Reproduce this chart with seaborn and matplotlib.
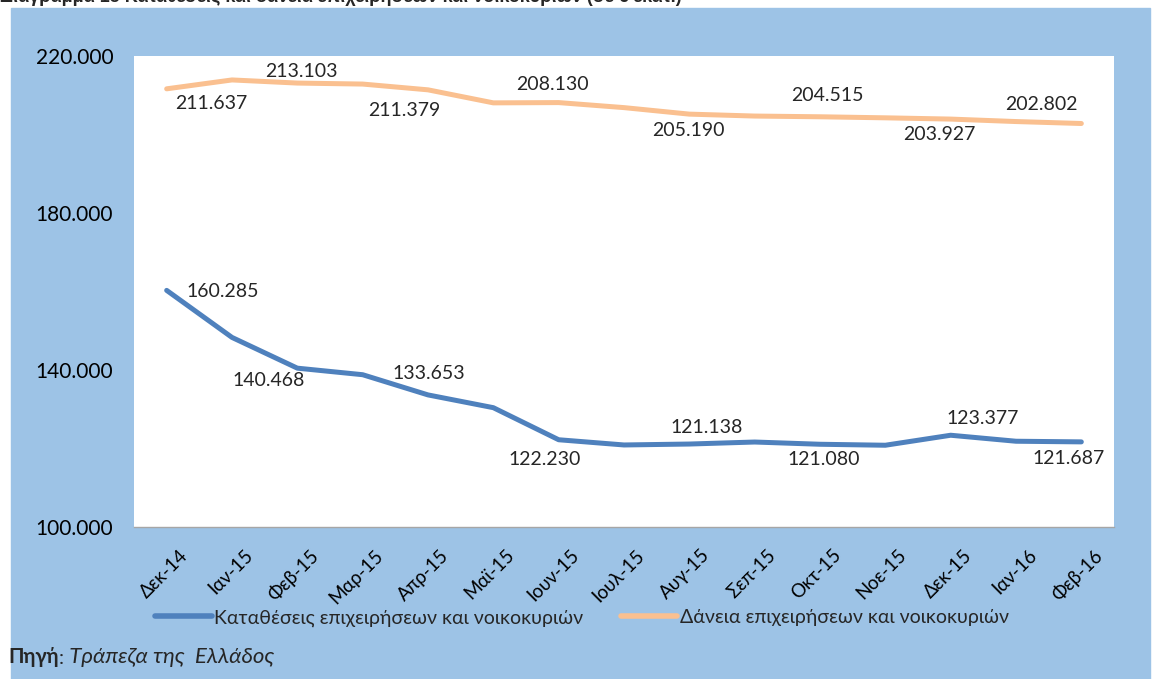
import matplotlib
matplotlib.use('Agg')
import matplotlib.pyplot as plt
import matplotlib.transforms as mtransforms
from matplotlib.patches import Rectangle
from matplotlib.ticker import FuncFormatter, FixedLocator
import pandas as pd
import seaborn as sns

# Data (σε € εκατ.)
months = ['Δεκ-14', 'Ιαν-15', 'Φεβ-15', 'Μαρ-15', 'Απρ-15', 'Μαϊ-15', 'Ιουν-15',
          'Ιουλ-15', 'Αυγ-15', 'Σεπ-15', 'Οκτ-15', 'Νοε-15', 'Δεκ-15', 'Ιαν-16', 'Φεβ-16']
deposits = [160285, 148300, 140468, 138800, 133653, 130400, 122230,
            120900, 121138, 121650, 121080, 120830, 123377, 121850, 121687]
loans = [211637, 213900, 213103, 212850, 211379, 208060, 208130,
         206850, 205190, 204700, 204515, 204250, 203927, 203300, 202802]
dep_name = 'Καταθέσεις επιχειρήσεων και νοικοκυριών'
loan_name = 'Δάνεια επιχειρήσεων και νοικοκυριών'
title = 'Διάγραμμα 15 Καταθέσεις και δάνεια επιχειρήσεων και νοικοκυριών (σε € εκατ.)'

# label offsets (pixels) for the labelled points (every second month)
loan_offsets = [(45, -15), (4, 12), (-24, -21), (-6, 18), (-1, -16), (7, 21), (-11, -15), (-40, 19)]
dep_offsets = [(56, -1), (-29, -12), (1, 21), (-14, -20), (17, 17), (4, -15), (32, 17), (-13, -17)]

blue = '#4F81BD'
orange = '#FAC090'
panel = '#9DC3E6'

sns.set_theme(style='white')
plt.rcParams['font.family'] = ['Lato', 'Noto Sans', 'DejaVu Sans']

W, H = 1153, 679
fig = plt.figure(figsize=(W / 100, H / 100), dpi=100)
fig.patches.append(Rectangle((11 / W, 0), (1150 - 11) / W, 671 / H,
                             transform=fig.transFigure, color=panel, zorder=-10))
ax = fig.add_axes([134 / W, 152 / H, 980 / W, 471 / H])
ax.set_zorder(1)
ax.set_facecolor('white')

df = pd.DataFrame({
    'month': months * 2,
    'value': deposits + loans,
    'series': [dep_name] * len(months) + [loan_name] * len(months),
})
sns.lineplot(data=df, x='month', y='value', hue='series', palette=[blue, orange],
             linewidth=3.6, sort=False, ax=ax)
for ln in ax.get_lines():
    ln.set_solid_capstyle('round')
    ln.set_solid_joinstyle('round')

ax.set_xlim(-0.5, len(months) - 0.5)
ax.set_ylim(100000, 220000)
ax.set_yticks([100000, 140000, 180000, 220000])
fmt = lambda v: f'{v:,.0f}'.replace(',', '.')
ax.yaxis.set_major_formatter(FuncFormatter(lambda v, _: fmt(v)))
ax.set_xlabel('')
ax.set_ylabel('')

for s in ['top', 'right', 'left']:
    ax.spines[s].set_visible(False)
ax.spines['bottom'].set_color('#A6A6A6')
ax.spines['bottom'].set_linewidth(1)

ax.tick_params(axis='y', length=0, pad=15, labelsize=15, labelcolor='black')
ax.tick_params(axis='x', which='major', length=0, pad=14, labelsize=13.5, labelcolor='black')
ax.xaxis.set_minor_locator(FixedLocator([i - 0.5 for i in range(len(months) + 1)]))
ax.tick_params(axis='x', which='minor', length=5, width=1, color='#A6A6A6', direction='out')

shift = mtransforms.ScaledTranslation(12 / 100, 0, fig.dpi_scale_trans)
for lab in ax.get_xticklabels():
    lab.set_rotation(45)
    lab.set_ha('right')
    lab.set_rotation_mode('anchor')
    lab.set_transform(lab.get_transform() + shift)

# data labels
for k, i in enumerate(range(0, len(months), 2)):
    ax.annotate(fmt(loans[i]), (i, loans[i]), xytext=loan_offsets[k],
                textcoords='offset pixels', ha='center', va='center', fontsize=14)
    ax.annotate(fmt(deposits[i]), (i, deposits[i]), xytext=dep_offsets[k],
                textcoords='offset pixels', ha='center', va='center', fontsize=14)

sns.move_legend(ax, 'center', bbox_to_anchor=(582 / W, 61 / H), bbox_transform=fig.transFigure,
                ncol=2, frameon=False, title=None, fontsize=14, handlelength=2.9,
                handletextpad=0.15, columnspacing=1.9)
for h in ax.get_legend().get_lines():
    h.set_linewidth(4)
    h.set_solid_capstyle('round')

# title (cut off at the top as in the source)
fig.text(0.0, 1 - 2 / H, title, fontsize=13, fontweight='bold', va='baseline',
         family=['Liberation Sans', 'DejaVu Sans'])

# source line
t1 = fig.text(8 / W, 1 - 663 / H, 'Πηγή', fontsize=14.5, fontweight='bold', va='baseline')
t2 = ax.annotate(':', xy=(1, 0), xycoords=t1, va='bottom', fontsize=14.5, annotation_clip=False)
ax.annotate(' Τράπεζα της  Ελλάδος', xy=(1, 0), xycoords=t2, va='bottom',
            fontsize=16, fontstyle='italic', annotation_clip=False)

fig.savefig('out.png', dpi=100, facecolor='white')
